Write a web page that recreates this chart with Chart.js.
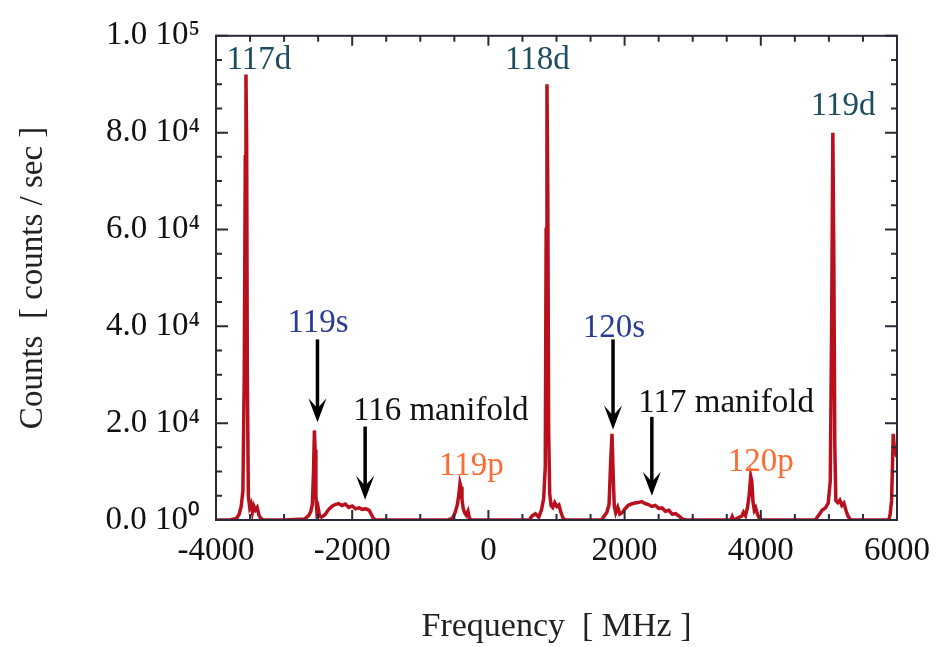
<!DOCTYPE html>
<html>
<head>
<meta charset="utf-8">
<script src="https://cdn.jsdelivr.net/npm/chart.js@4"></script>
<style>
  html, body { margin: 0; padding: 0; background: #fff; }
</style>
</head>
<body>
<canvas id="chart-spectrum" width="943" height="647"></canvas>
<script>
'use strict';

/* global Chart */

// spectrum: frequency [MHz] and counts [counts/sec]
const FREQ = [
  -4000, -3800, -3700, -3660, -3630, -3605, -3585, -3570, -3560, -3550, -3540, -3525,
  -3505, -3485, -3465, -3445, -3420, -3395, -3370, -3340, -3300,
  -3000, -2700, -2640, -2610, -2585, -2568, -2555, -2545, -2533, -2518, -2500, -2480, -2450,
  -2400, -2350, -2300, -2250, -2200, -2150, -2100, -2050, -2000, -1950, -1900, -1850,
  -1800, -1750, -1700, -1660,
  -1000, -600, -530, -490, -455, -432, -417, -402, -388, -370, -350, -325, -300, -280, -250,
  300, 600, 640, 690, 740, 780, 812, 835, 848, 860, 872, 885, 900, 920, 945, 975, 1005,
  1035, 1065, 1095, 1130,
  1500, 1660, 1700, 1740, 1772, 1795, 1815, 1832, 1848, 1870, 1900, 1930, 1965,
  2000, 2050, 2100, 2150, 2200, 2250, 2300, 2350, 2400, 2450, 2500, 2550, 2600, 2650,
  2700, 2750, 2800, 2850, 2900,
  3400, 3560, 3580, 3600, 3720, 3745, 3775, 3805, 3830, 3852, 3868, 3885, 3905, 3925,
  3950, 3980, 4010,
  4600, 4800, 4850, 4900, 4950, 4990, 5020, 5040, 5058, 5072, 5087, 5102, 5130, 5160,
  5190, 5220, 5250, 5280, 5320,
  5700, 5880, 5900, 5920, 5935, 5945, 5960, 5980, 6000
];
const COUNTS = [
  0, 0, 300, 1200, 2800, 6000, 30000, 75000, 92000, 78000, 30000, 5000,
  2600, 3300, 1600, 2900, 2100, 2600, 1000, 300, 0,
  0, 200, 900, 1700, 3200, 10000, 18500, 14500, 5000, 1600, 2500, 900, 600,
  1100, 2100, 2800, 3200, 3400, 3000, 3300, 2600, 2900, 2300, 2500, 2200,
  2300, 2000, 600, 0,
  0, 0, 300, 1500, 3200, 5500, 7600, 6800, 4300, 2400, 1500, 1000, 1800, 400, 0,
  0, 0, 800, 1300, 600, 2100, 4500, 11000, 60000, 90000, 68000, 18000, 5500, 3000, 2600,
  3600, 2800, 3100, 1600, 400, 0,
  0, 0, 800, 1600, 3200, 12000, 17800, 9500, 3000, 1500, 2600, 1200, 1500,
  2200, 3000, 3300, 3500, 3600, 3800, 3400, 3200, 2800, 3000, 2400, 2500, 1800, 2000,
  1200, 1300, 800, 200, 0,
  0, 0, 700, 0, 800, 1600, 900, 2600, 5200, 9000, 8000, 3800, 2000, 2500,
  1200, 300, 0,
  0, 0, 1000, 2000, 2500, 3500, 8000, 40000, 80000, 55000, 15000, 4000, 3600, 4100,
  3000, 3500, 2000, 800, 0,
  0, 0, 1200, 4000, 12000, 17800, 15000, 14000, 13000
];

// axes
const X_MIN = -4000;
const X_MAX = 6000;
const X_LABELS = [-4000, -2000, 0, 2000, 4000, 6000];
const Y_MAX = 100000;
const Y_LABEL_VALUES = [0, 20000, 40000, 60000, 80000, 100000];
const Y_LABEL_TEXT = ['0.0 10\u2070', '2.0 10\u2074', '4.0 10\u2074', '6.0 10\u2074', '8.0 10\u2074', '1.0 10\u2075'];

// peak names, placed in data coordinates
const PEAK_TEXT = ['117d', '118d', '119d', '119s', '120s', '116 manifold', '117 manifold', '119p', '120p'];
const PEAK_X = [-3370, 720, 5210, -2500, 1845, -700, 3490, -250, 4000];
const PEAK_Y = [95000, 95000, 85500, 40600, 39600, 22500, 24000, 11000, 11900];
const PEAK_COLOR = ['#1d4d5f', '#1d4d5f', '#1d4d5f', '#2a3d96', '#2a3d96', '#111', '#111', '#ff6a30', '#ff6a30'];

// arrows: x, from y, to y (tip)
const ARROW_X = [-2510, -1810, 1830, 2400];
const ARROW_FROM = [37300, 19300, 37300, 21300];
const ARROW_TO = [20200, 4200, 18700, 5000];

const SERIF = "'Liberation Serif', 'Times New Roman', serif";

const frame = {
  id: 'frame',
  afterDraw(chart) {
    const ctx = chart.ctx;
    const x = chart.scales.x;
    const y = chart.scales.y;
    const a = chart.chartArea;

    ctx.save();
    ctx.strokeStyle = '#2a2a3a';
    ctx.lineWidth = 2;
    ctx.strokeRect(a.left, a.top, a.right - a.left, a.bottom - a.top);

    // inward ticks on all four sides
    ctx.beginPath();
    x.ticks.forEach(t => {
      const px = x.getPixelForValue(t.value);
      const len = X_LABELS.includes(t.value) ? 10 : 6;
      ctx.moveTo(px, a.bottom); ctx.lineTo(px, a.bottom - len);
      ctx.moveTo(px, a.top); ctx.lineTo(px, a.top + len);
    });
    y.ticks.forEach(t => {
      const py = y.getPixelForValue(t.value);
      const len = Y_LABEL_VALUES.includes(t.value) ? 12 : 6;
      ctx.moveTo(a.left, py); ctx.lineTo(a.left + len, py);
      ctx.moveTo(a.right, py); ctx.lineTo(a.right - len, py);
    });
    ctx.stroke();

    // peak names
    ctx.font = '33px ' + SERIF;
    ctx.textAlign = 'center';
    ctx.textBaseline = 'middle';
    PEAK_TEXT.forEach((txt, i) => {
      ctx.fillStyle = PEAK_COLOR[i];
      ctx.fillText(txt, x.getPixelForValue(PEAK_X[i]), y.getPixelForValue(PEAK_Y[i]));
    });

    // arrows
    ctx.strokeStyle = '#000';
    ctx.fillStyle = '#000';
    ctx.lineWidth = 3.5;
    ARROW_X.forEach((v, i) => {
      const px = x.getPixelForValue(v);
      const y1 = y.getPixelForValue(ARROW_FROM[i]);
      const y2 = y.getPixelForValue(ARROW_TO[i]);
      ctx.beginPath();
      ctx.moveTo(px, y1);
      ctx.lineTo(px, y2 - 10);
      ctx.stroke();
      ctx.beginPath();
      ctx.moveTo(px, y2);
      ctx.lineTo(px - 9, y2 - 24);
      ctx.lineTo(px, y2 - 14);
      ctx.lineTo(px + 9, y2 - 24);
      ctx.closePath();
      ctx.fill();
    });
    ctx.restore();
  }
};

const canvas = document.getElementById('chart-spectrum');
new Chart(canvas, {
  type: 'line',
  data: {
    datasets: [{
      data: FREQ.map((f, i) => ({ x: f, y: COUNTS[i] })),
      borderColor: '#b8101c',
      borderWidth: 3.5,
      pointRadius: 0,
      tension: 0,
      fill: false
    }]
  },
  options: {
    responsive: false,
    animation: false,
    layout: { padding: { top: 35, right: 46, left: 0, bottom: 0 } },
    plugins: {
      legend: { display: false },
      tooltip: { enabled: false }
    },
    scales: {
      x: {
        type: 'linear',
        min: X_MIN,
        max: X_MAX,
        grid: { display: false, drawTicks: false },
        border: { display: false },
        ticks: {
          stepSize: 500,
          autoSkip: false,
          maxRotation: 0,
          padding: 12,
          color: '#111',
          font: { family: SERIF, size: 33 },
          callback: v => X_LABELS.includes(v) ? String(v) : ''
        },
        title: {
          display: true,
          text: 'Frequency  [ MHz ]',
          color: '#222',
          font: { family: SERIF, size: 34 },
          padding: { top: 2, bottom: 0 }
        },
        afterFit: s => { s.height = 127; }
      },
      y: {
        min: 0,
        max: Y_MAX,
        grid: { display: false, drawTicks: false },
        border: { display: false },
        ticks: {
          stepSize: 5000,
          autoSkip: false,
          padding: 16,
          color: '#111',
          font: { family: SERIF, size: 33 },
          callback: v => {
            const k = Y_LABEL_VALUES.indexOf(v);
            return k >= 0 ? Y_LABEL_TEXT[k] : '';
          }
        },
        title: {
          display: true,
          text: 'Counts  [ counts / sec ]',
          color: '#222',
          font: { family: SERIF, size: 33 },
          padding: { top: 14, bottom: 0 }
        },
        afterFit: s => { s.width = 216; }
      }
    }
  },
  plugins: [frame]
});
</script>
</body>
</html>
